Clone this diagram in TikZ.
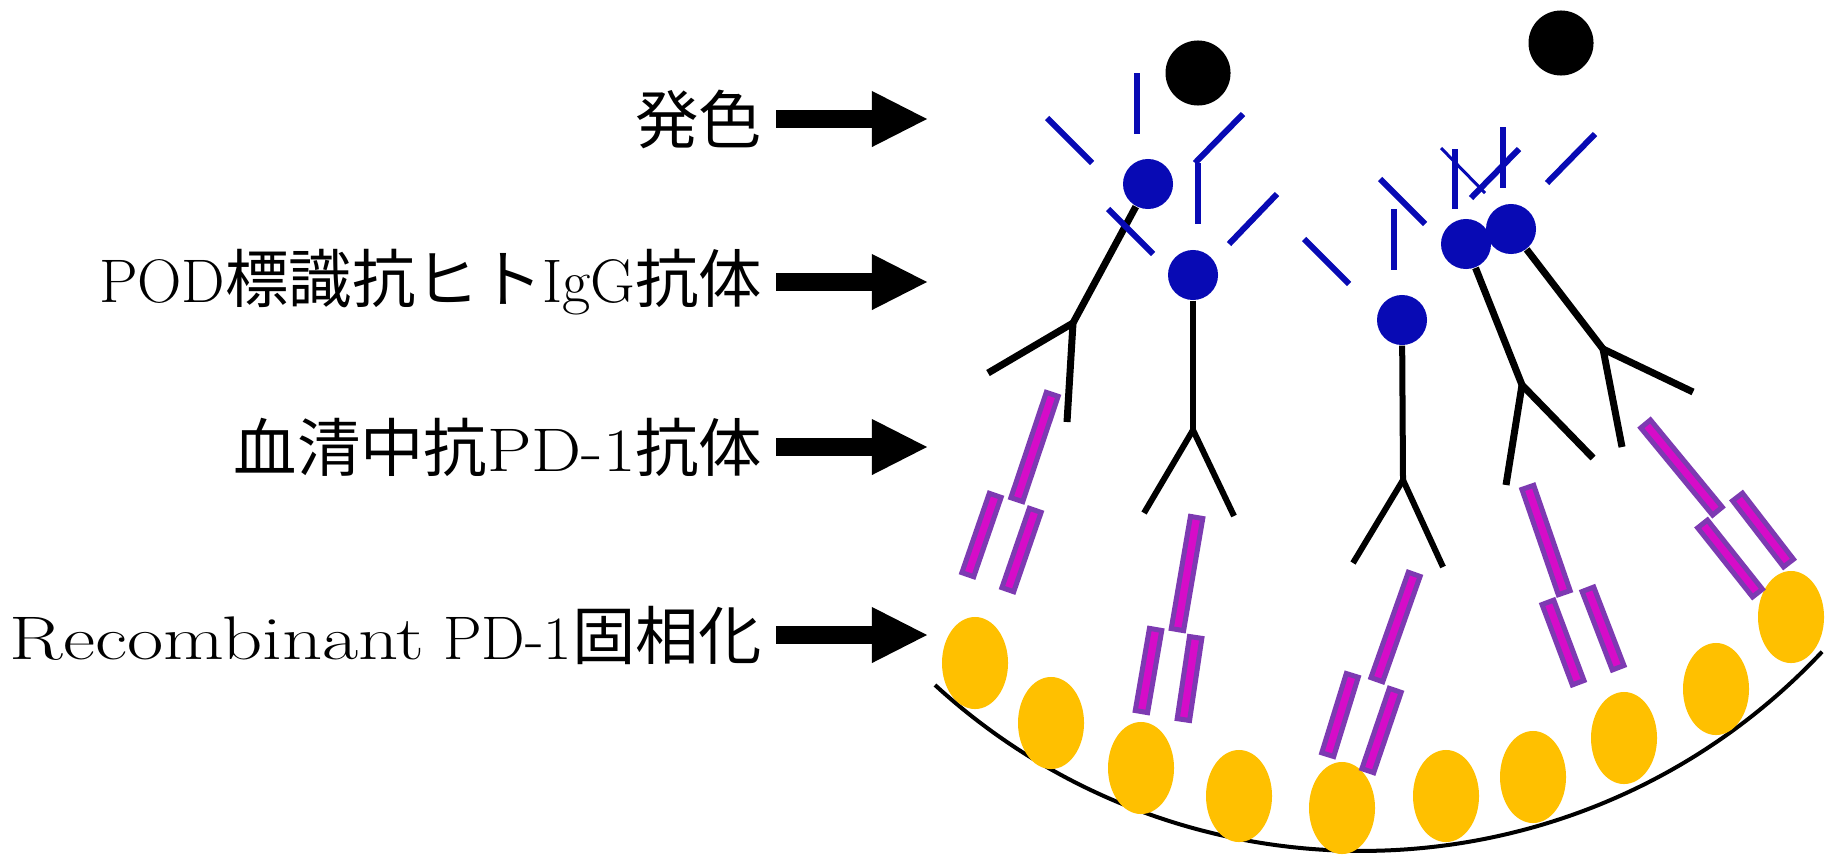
\documentclass[tikz,border=0pt]{standalone}
\usepackage{fontspec}
\newfontfamily\jp[Scale=1.03]{Noto Sans CJK JP}
\usetikzlibrary{arrows.meta}
\usetikzlibrary{positioning}
\usetikzlibrary{shapes.geometric}
\usetikzlibrary{calc}
\definecolor{podblue}{RGB}{8,10,180}
\definecolor{pdmag}{RGB}{214,12,200}
\definecolor{pdpurple}{RGB}{125,58,178}
\definecolor{plategold}{RGB}{255,192,0}
\tikzstyle{lbl} = [font=\fontsize{17.5}{20}\selectfont, inner sep=0pt]
\tikzstyle{bigarrow} = [line width=0.18cm, -{Triangle[length=0.55cm,width=0.56cm,line width=0pt]}]
\tikzstyle{dye} = [circle, fill=black, inner sep=0pt, minimum size=0.65cm]
\tikzstyle{pod} = [circle, fill=podblue, inner sep=0pt, minimum size=0.5cm]
\tikzstyle{ray} = [draw=podblue, line width=0.06cm]
\tikzstyle{thinray} = [draw=podblue, line width=0.03cm]
\tikzstyle{igg} = [line width=0.07cm]
\tikzstyle{iggstraight} = [line width=0.06cm]
\tikzstyle{pdbar} = [rectangle, draw=pdpurple, fill=pdmag, line width=0.05cm, inner sep=0pt, minimum height=0.125cm]
\tikzstyle{antigen} = [ellipse, fill=plategold, inner sep=0pt, minimum width=0.66cm, minimum height=0.92cm]
\tikzstyle{plate} = [line width=0.04cm]

\begin{document}
\begin{tikzpicture}[x=0.01cm, y=-0.01cm]
\useasboundingbox (0,0) rectangle (1825,854);
\draw[plate] (935,685) arc[start angle=132.5, end angle=43.2, radius=631.6];
\node (ag1) [antigen] at (975,663) {};
\node (ag2) [antigen] at (1051,723) {};
\node (ag3) [antigen] at (1141,768) {};
\node (ag4) [antigen] at (1239,796) {};
\node (ag5) [antigen] at (1342,808) {};
\node (ag6) [antigen] at (1446,796) {};
\node (ag7) [antigen] at (1533,777) {};
\node (ag8) [antigen] at (1624,738) {};
\node (ag9) [antigen] at (1716,689) {};
\node (ag10) [antigen] at (1791,617) {};

\foreach \xa/\ya/\xb/\yb in {1053/392/1016/502, 996/493/967/577, 1036/508/1007/592,
  1197/515/1177/632, 1156/627/1141/714, 1196/635/1183/722,
  1415/572/1376/682, 1353/673/1327/757, 1396/688/1367/773,
  1527/485/1565/595, 1547/600/1579/685, 1587/587/1619/670,
  1644/422/1719/513, 1701/522/1759/595, 1736/495/1790/565}
{
  \path let \p1 = ($(\xb,\yb)-(\xa,\ya)$), \n1 = {atan2(\y1,\x1)}, \n2 = {veclen(\x1,\y1)} in
    node (bar\xa\ya) [pdbar, minimum width=\n2-1.4, rotate=\n1] at ($(\xa,\ya)!0.5!(\xb,\yb)$) {};
}

\node (podA) [pod] at (1148,184) {};
\node (podB) [pod] at (1193,275) {};
\node (podC) [pod] at (1402,320) {};
\node (podD) [pod] at (1466,244) {};
\node (podE) [pod] at (1511,229) {};
\coordinate (hingeA) at (1073,323);
\coordinate (hingeB) at (1193,430);
\coordinate (hingeC) at (1403,480);
\coordinate (hingeD) at (1522,385);
\coordinate (hingeE) at (1603,349);
\draw[igg] (podA) -- (hingeA);
\draw[igg] (hingeA) -- (988,373);
\draw[igg] (hingeA) -- (1067,422);
\draw[iggstraight] (podB) -- (hingeB);
\draw[iggstraight] (hingeB) -- (1144,513);
\draw[iggstraight] (hingeB) -- (1234,516);
\draw[iggstraight] (podC) -- (hingeC);
\draw[iggstraight] (hingeC) -- (1353,563);
\draw[iggstraight] (hingeC) -- (1443,567);
\draw[igg] (podD) -- (hingeD);
\draw[igg] (hingeD) -- (1506,485);
\draw[igg] (hingeD) -- (1593,458);
\draw[igg] (podE) -- (hingeE);
\draw[igg] (hingeE) -- (1622,447);
\draw[igg] (hingeE) -- (1693,392);

\draw[ray] (1137,73) -- (1137,134);
\draw[ray] (1047,118) -- (1092,163);
\draw[ray] (1243,114) -- (1195,163);
\draw[ray] (1198,163) -- (1198,224);
\draw[ray] (1108,209) -- (1153,254);
\draw[ray] (1277,194) -- (1229,244);
\draw[ray] (1304,239) -- (1349,284);
\draw[ray] (1394,209) -- (1394,270);
\draw[ray] (1380,179) -- (1425,224);
\draw[ray] (1455,149) -- (1455,209);
\draw[thinray] (1441,148) -- (1485,193);
\draw[ray] (1471,198) -- (1519,149);
\draw[ray] (1503,127) -- (1503,188);
\draw[ray] (1547,183) -- (1595,134);

\node (dyeA) [dye] at (1198,73) {};
\node (dyeB) [dye] at (1561,43) {};

\coordinate (s1) at (776,119);
\coordinate (e1) at (927,119);
\coordinate (s2) at (776,282);
\coordinate (e2) at (927,282);
\coordinate (s3) at (776,447);
\coordinate (e3) at (927,447);
\coordinate (s4) at (776,635);
\coordinate (e4) at (927,635);
\node (colorlbl) [lbl, left=0.13cm of s1] {\jp 発色};
\node (podlbl) [lbl, left=0.13cm of s2] {POD{\jp 標識抗ヒト}IgG{\jp 抗体}};
\node (serumlbl) [lbl, left=0.13cm of s3] {{\jp 血清中抗}\scalebox{1.15}[1]{PD-1}{\jp 抗体}};
\node (solidlbl) [lbl, left=0.13cm of s4] {\scalebox{1.28}[1]{Recombinant} PD-1{\jp 固相化}};
\draw[bigarrow] (s1) -- (e1);
\draw[bigarrow] (s2) -- (e2);
\draw[bigarrow] (s3) -- (e3);
\draw[bigarrow] (s4) -- (e4);
\end{tikzpicture}
\end{document}
